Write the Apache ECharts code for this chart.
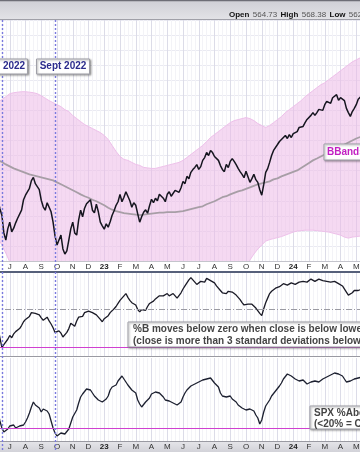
<!DOCTYPE html>
<html><head><meta charset="utf-8">
<script src="https://cdn.jsdelivr.net/npm/echarts@6/dist/echarts.min.js"></script>
<style>html,body{margin:0;padding:0;background:#fff;overflow:hidden;width:360px;height:452px}
#c{position:absolute;left:-6px;top:0;width:378px;height:452px}</style>
</head><body><div id="c"></div>
<script>
// x positions are months since 1 Jul 2022
const lineStart = -0.75;   // price / %B / SPX samples: half-week step
const lineStep = 0.125;
const bandStart = -0.75;   // Bollinger band samples: weekly step
const bandStep = 0.25;

const price = [420.5,412,405.6,388,380.8,392,398.7,389,392.7,398,
402.6,404,410.6,421,425.5,427,432.4,440,443.3,437,
435.4,431,420.5,414,410.6,418,416.5,409,398.7,385,
375.9,381,385.8,372,366.9,370,380.8,392,398.7,388,
385.8,401,410.6,404,412.6,417,418.5,421,410.6,408,
416.5,409,398.7,395,391.7,397,393.7,399,405.6,410,
415.5,419,426.4,419,423.5,429,427.4,420,413.6,418,
415.5,407,398.7,404,408.6,411,407.6,415,421.5,418,
422.5,420,426.4,428,422.5,419,426.4,429,424.5,423,
430.4,432,428.4,433,439.3,437,444.3,442,448.3,451,
453.2,456,451.2,454,460.2,463,468.1,465,470.1,468,
464.1,466,460.2,455,451.2,449,456.2,453,459.2,462,
459.2,456,452.2,449,446.3,443,449.3,444,438.3,442,
446.3,441,438.3,431,425.5,436,448.3,452,458.2,465,
470.1,471,476.0,479,481.0,483,485.0,482,485.9,483,
486.9,485,488.9,493,491.9,494,497.8,501,502.8,505,
507.8,505,507.8,511,512.7,510,515.7,519,518.7,517,
522.6,524,525.6,520,522.6,523,519.7,512,507.8,504,
508.8,512,515.7,521,522.6,525,527.6];

const upperBand = [518.7,520.7,523.6,526.6,527.6,528.1,528.6,528.6,528.1,527.6,
526.6,524.6,522.1,519.7,517.7,515.7,513.7,510.7,508.8,504.8,
501.8,498.8,495.9,493.9,491.9,489.9,487.9,485.0,481.0,475.0,
469.1,464.1,461.2,460.2,458.2,456.2,455.2,453.2,452.7,452.2,
452.2,453.2,454.2,455.2,456.2,457.2,458.2,460.2,463.1,466.1,
469.1,472.1,475.0,479.0,483.0,485.9,488.9,491.9,494.9,497.8,
499.8,500.8,501.8,502.8,501.8,499.8,496.9,494.9,492.9,494.9,
497.8,500.8,503.8,507.8,510.7,513.7,516.7,519.7,523.6,526.6,
529.6,532.6,535.5,537.5,540.5,543.5,546.4,549.4,552.4,555.4,
558.3,560.3,562.3,564.3];

const middleBand = [460.2,458.7,456.2,454.2,452.2,450.7,449.3,447.8,446.3,445.3,
444.3,443.3,442.3,441.3,440.3,438.3,436.4,434.4,432.4,430.4,
428.4,426.4,424.5,423.0,421.0,419.5,417.5,415.5,413.1,411.1,
409.6,408.6,407.6,407.1,406.6,406.1,405.6,406.1,406.6,407.1,
407.6,408.1,408.1,408.6,408.6,408.6,409.1,409.6,410.6,411.6,
412.6,413.6,414.5,416.5,418.0,419.5,421.5,423.5,424.5,426.4,
427.9,429.4,430.4,431.9,433.4,434.9,436.4,437.4,438.3,439.3,
441.3,442.3,444.3,445.8,447.3,448.8,450.2,452.7,455.2,457.7,
460.2,462.1,464.1,466.1,468.1,470.1,472.1,474.0,476.0,478.0,
480.0,482.0,483.5,485.0];

const lowerBand = [382.8,375.9,367.9,359.0,354,352,350,348,346,344,
343,343,344,344,345,343,341,339,337,337,
336,335,334,333,331,330,328,327,326,328,
331,334,335,335,336,337,337,340,341,343,
344,344,343,343,342,341,341,339,338,337,
336,335,335,335,335,338,340,342,344,346,
348,350,352,355,361.0,366.9,371.9,375.9,379.8,381.3,
382.3,383.3,384.3,385.8,387.3,388.8,389.8,390.2,390.7,390.7,
390.7,390.2,389.8,389.3,388.8,387.8,386.8,385.8,383.8,382.8,
383.8,384.3,384.8,385.8];

const pctB = [0.25,0.12,-0.01,0.03,0.05,0.10,0.15,0.12,0.17,0.20,
0.22,0.24,0.28,0.33,0.36,0.37,0.40,0.45,0.47,0.44,
0.45,0.42,0.38,0.35,0.36,0.39,0.34,0.30,0.25,0.19,
0.17,0.21,0.18,0.13,0.15,0.19,0.24,0.31,0.30,0.27,
0.34,0.39,0.41,0.40,0.45,0.44,0.47,0.49,0.45,0.44,
0.42,0.40,0.36,0.33,0.37,0.39,0.41,0.45,0.47,0.50,
0.53,0.57,0.61,0.60,0.67,0.70,0.65,0.61,0.58,0.60,
0.55,0.49,0.46,0.49,0.50,0.48,0.53,0.57,0.58,0.60,
0.63,0.62,0.67,0.69,0.67,0.65,0.70,0.67,0.66,0.70,
0.68,0.64,0.66,0.71,0.76,0.80,0.84,0.88,0.91,0.88,
0.86,0.82,0.84,0.86,0.87,0.85,0.90,0.88,0.87,0.85,
0.84,0.80,0.78,0.74,0.71,0.73,0.70,0.73,0.75,0.72,
0.71,0.68,0.66,0.62,0.58,0.55,0.54,0.56,0.58,0.56,
0.55,0.51,0.49,0.44,0.41,0.50,0.58,0.64,0.70,0.73,
0.75,0.77,0.78,0.79,0.80,0.83,0.82,0.81,0.82,0.84,
0.83,0.82,0.84,0.85,0.84,0.86,0.87,0.85,0.87,0.89,
0.88,0.86,0.87,0.89,0.88,0.87,0.88,0.86,0.86,0.85,
0.84,0.86,0.84,0.83,0.82,0.80,0.78,0.72,0.68,0.70,
0.71,0.74,0.72,0.74,0.75,0.76,0.78];

const spxAbove = [36,27,20,16,15,19,22,21,23,20,
19,22,21,23,26,30,35,41,46,43,
44,40,36,39,38,37,34,27,20,15,
12,14,15,13,14,16,19,25,31,33,
38,45,51,54,56,59,60,58,56,52,
50,48,47,46,47,49,52,58,61,62,
63,67,69,72,69,66,63,62,58,57,
55,48,44,41,42,46,44,50,54,55,
56,54,55,53,51,48,46,47,47,45,
44,43,41,46,51,55,58,60,62,63,
64,66,66,67,68,70,69,71,70,68,
65,63,61,55,52,50,51,53,52,49,
48,46,43,41,40,39,38,40,39,38,
37,33,30,24,28,36,42,45,48,52,
54,57,58,62,65,69,71,74,73,72,
71,69,68,67,66,68,66,64,65,66,
65,67,67,66,68,69,70,71,72,73,
74,75,76,74,74,72,69,66,65,67,
68,69,70,70,71,71,72];

const monthLetters = ['J','F','M','A','M','J','J','A','S','O','N','D'];
const annotations = [{m: -0.5, label: 'June 2022'}, {m: 2.9, label: 'Sept 2022'}];
const pctBLevels = {alert: 0, mid: 0.5};
const spxAlert = 20;

const lineX = price.map((_, i) => lineStart + i * lineStep);
const bandX = upperBand.map((_, i) => bandStart + i * bandStep);
const pairL = arr => arr.map((v, i) => [lineX[i], v]);
const pairB = arr => arr.map((v, i) => [bandX[i], v]);

function monthLabel(v) {
  const idx = ((v + 6) % 12 + 12) % 12;
  if (idx === 0) return '{y|' + String(22 + Math.floor((v + 6) / 12)) + '}';
  return monthLetters[idx];
}

const FONT = 'Liberation Sans';
function xAxis(gi, showLabels, lineColor) {
  return {
    type: 'value', gridIndex: gi, min: -1, max: 23, interval: 1,
    axisLine: {show: true, onZero: false, lineStyle: {color: lineColor, width: 1}},
    axisTick: {show: false},
    axisLabel: {show: showLabels, formatter: monthLabel, fontSize: 8, color: '#333', margin: 2,
      fontFamily: FONT, showMinLabel: false, showMaxLabel: false,
      rich: {y: {fontWeight: 'bold', fontSize: 8, color: '#222', fontFamily: FONT}}},
    splitLine: {show: true, lineStyle: {color: '#dcdce8', width: 1}},
    minorTick: {show: false, splitNumber: 4},
    minorSplitLine: {show: true, lineStyle: {color: '#f3f3f7', width: 1}}
  };
}

function renderBand(params, api) {
  const pts = [];
  for (let i = 0; i < bandX.length; i++) pts.push(api.coord([bandX[i], upperBand[i]]));
  for (let i = bandX.length - 1; i >= 0; i--) pts.push(api.coord([bandX[i], lowerBand[i]]));
  return {type: 'polygon', shape: {points: pts},
    style: {fill: 'rgba(236,186,232,0.55)', stroke: '#eec0ea', lineWidth: 1}};
}

const chart = echarts.init(document.getElementById('c'), null, {renderer: 'canvas'});
const option = {
  animation: false,
  backgroundColor: '#ffffff',
  grid: [
    {left: 0, right: 0, top: 20, height: 241},
    {left: 0, right: 0, top: 273, height: 83},
    {left: 0, right: 0, top: 358, height: 83}
  ],
  xAxis: [xAxis(0, true, '#c4c4cc'), xAxis(1, false, '#9a9aa2'), xAxis(2, true, '#9a9aa2')],
  yAxis: [
    {type: 'value', gridIndex: 0, min: 360, max: 600, interval: 15, axisLabel: {show: false},
     axisLine: {show: false}, axisTick: {show: false}, splitLine: {lineStyle: {color: '#eaeaf2'}}},
    {type: 'value', gridIndex: 1, min: -0.12, max: 0.97, axisLabel: {show: false},
     axisLine: {show: false}, axisTick: {show: false}, splitLine: {show: false}},
    {type: 'value', gridIndex: 2, min: 7, max: 90, axisLabel: {show: false},
     axisLine: {show: false}, axisTick: {show: false}, splitLine: {show: false}}
  ],
  series: [
    {name: 'bands', type: 'custom', xAxisIndex: 0, yAxisIndex: 0, clip: true, silent: true, z: 1,
     data: [[bandX[0], upperBand[0]]], renderItem: renderBand},
    {name: 'middle', type: 'line', xAxisIndex: 0, yAxisIndex: 0, data: pairB(middleBand),
     symbol: 'none', lineStyle: {color: '#a79ea6', width: 1.8}, z: 3},
    {name: 'price', type: 'line', xAxisIndex: 0, yAxisIndex: 0, data: pairL(price),
     symbol: 'none', lineStyle: {color: '#15151f', width: 1.5}, z: 4},
    {name: 'pctB', type: 'line', xAxisIndex: 1, yAxisIndex: 1, data: pairL(pctB),
     symbol: 'none', lineStyle: {color: '#1a1a26', width: 1.3}, z: 4,
     markLine: {silent: true, symbol: 'none', label: {show: false}, animation: false,
       data: [
         {yAxis: pctBLevels.alert, lineStyle: {color: '#d040d0', width: 1, type: 'solid'}},
         {yAxis: pctBLevels.mid, lineStyle: {color: '#9a9aa2', width: 1, type: [6, 2, 1, 2]}}
       ]}},
    {name: 'spx', type: 'line', xAxisIndex: 2, yAxisIndex: 2, data: pairL(spxAbove),
     symbol: 'none', lineStyle: {color: '#1c2030', width: 1.3}, z: 4,
     markLine: {silent: true, symbol: 'none', label: {show: false}, animation: false,
       data: [{yAxis: spxAlert, lineStyle: {color: '#d040d0', width: 1, type: 'solid'}}]}}
  ]
};
chart.setOption(option);

// screen-space decorations (chart canvas is offset 6px left of the page)
const OFF = 6;
const shadow = {shadowBlur: 2, shadowColor: 'rgba(0,0,0,0.35)', shadowOffsetX: 1, shadowOffsetY: 1};
const deco = [
  {type: 'rect', shape: {x: 0, y: 0, width: 360, height: 19}, z: -50,
   style: {fill: new echarts.graphic.LinearGradient(0, 0, 0, 1, [{offset: 0, color: '#cfcfd5'}, {offset: 1, color: '#e2e2e6'}])}},
  {type: 'line', shape: {x1: 0, y1: 0.5, x2: 360, y2: 0.5}, style: {stroke: '#6e6e76', lineWidth: 1.5}},
  {type: 'line', shape: {x1: 0, y1: 19.5, x2: 360, y2: 19.5}, style: {stroke: '#a0a0a8', lineWidth: 1}},
  {type: 'text', x: 229, y: 15, z: 10,
   style: {text: '{b|Open} {v|564.73} {b|High} {v|568.38} {b|Low} {v|562.31} {b|Last} {v|565.73}',
     verticalAlign: 'middle', rich: {
       b: {font: 'bold 8px "Liberation Sans"', fill: '#111'},
       v: {font: '8px "Liberation Sans"', fill: '#555'}}}},
  {type: 'rect', shape: {x: 0, y: 271, width: 360, height: 2}, style: {fill: '#56607a'}, z: 20},
  {type: 'rect', shape: {x: 0, y: 441, width: 360, height: 11}, z: -50,
   style: {fill: new echarts.graphic.LinearGradient(0, 0, 0, 1, [{offset: 0, color: '#e6e6ea'}, {offset: 1, color: '#d2d2d8'}])}},
  {type: 'rect', shape: {x: 324, y: 144, width: 70, height: 16}, z: 100,
   style: Object.assign({fill: '#fff', stroke: '#a0a0a8', lineWidth: 1}, shadow)},
  {type: 'text', x: 327, y: 152.5, z: 101,
   style: {text: 'BBands(20,3)', font: 'bold 10px "Liberation Sans"', fill: '#c21fc2', verticalAlign: 'middle'}},
  {type: 'rect', shape: {x: 128, y: 322, width: 300, height: 25}, z: 100,
   style: Object.assign({fill: '#fff', stroke: '#a0a0a8', lineWidth: 1}, shadow)},
  {type: 'text', x: 133, y: 329, z: 101,
   style: {text: '%B moves below zero when close is below lower band', font: 'bold 10px "Liberation Sans"', fill: '#444', verticalAlign: 'middle'}},
  {type: 'text', x: 133, y: 341, z: 101,
   style: {text: '(close is more than 3 standard deviations below 20-day SMA)', font: 'bold 10px "Liberation Sans"', fill: '#444', verticalAlign: 'middle'}},
  {type: 'rect', shape: {x: 310, y: 406, width: 120, height: 23}, z: 100,
   style: Object.assign({fill: '#fff', stroke: '#a0a0a8', lineWidth: 1}, shadow)},
  {type: 'text', x: 314, y: 413, z: 101,
   style: {text: 'SPX %Above 200-day SMA', font: 'bold 10px "Liberation Sans"', fill: '#444', verticalAlign: 'middle'}},
  {type: 'text', x: 314, y: 424, z: 101,
   style: {text: '(<20% = Capitulation)', font: 'bold 10px "Liberation Sans"', fill: '#444', verticalAlign: 'middle'}}
];
annotations.forEach((a, k) => {
  const px = Math.round(chart.convertToPixel({xAxisIndex: 0}, a.m) - OFF) + 0.5; // screen x
  deco.push({type: 'line', z: 50, shape: {x1: px, y1: 20, x2: px, y2: 452},
    style: {stroke: '#7a7ade', lineWidth: 1.4, lineDash: [2, 2]}});
  const bx = k === 0 ? px - 28 : px - 19;
  deco.push({type: 'rect', z: 100, shape: {x: bx, y: 59, width: 53, height: 15},
    style: Object.assign({fill: '#fff', stroke: '#a0a0a8', lineWidth: 1}, shadow)});
  deco.push({type: 'text', z: 101, x: bx + 26.5, y: 66.5,
    style: {text: a.label, font: 'bold 10px "Liberation Sans"', fill: '#2b2b8c', align: 'center', verticalAlign: 'middle'}});
});
chart.setOption({graphic: [{type: 'group', id: 'deco', x: OFF, y: 0, children: deco}]});
</script>
</body></html>
